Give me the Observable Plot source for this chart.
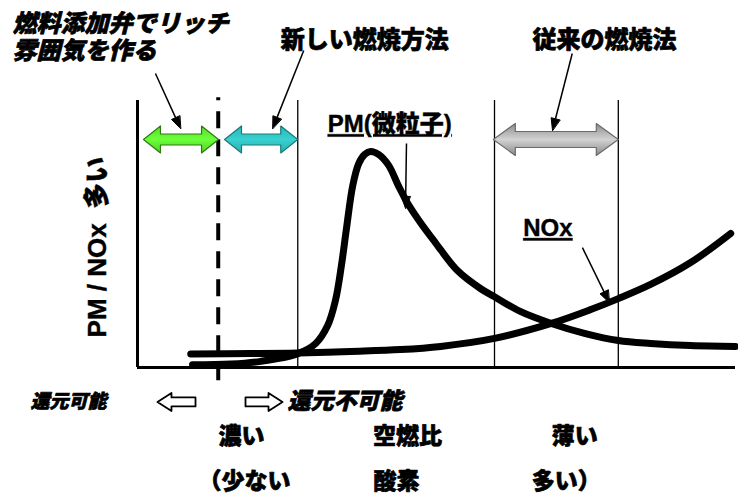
<!DOCTYPE html>
<html><head><meta charset="utf-8">
<script src="https://cdn.jsdelivr.net/npm/d3@7"></script>
<script src="https://cdn.jsdelivr.net/npm/@observablehq/plot@0.6"></script>
<style>body{margin:0;background:#fff} svg{display:block}</style>
</head><body><div id="chart"></div>
<script>
// Schematic: air-fuel ratio (arbitrary units 0..100) vs emission level (arbitrary units 0..100)
const pmAF    = [9.2, 15.6, 20.6, 26.8, 29.8, 31.8, 33.1, 34.1, 34.9, 36.0, 37.0, 38.0, 39.0, 40.3, 42.0, 43.6, 45.2, 47.3, 49.8, 53.5, 57.4, 59.7, 64.0, 69.2, 74.9, 80.4, 85.8, 92.5, 100];
const pmLevel = [1.0, 1.3, 2.3, 5.2, 9.0, 15.7, 25.1, 38.2, 51.3, 68.2, 76.4, 79.8, 80.9, 79.8, 75.7, 68.2, 61.4, 54.3, 46.8, 36.3, 29.5, 26.5, 21.0, 16.5, 12.7, 10.1, 9.0, 8.2, 7.9];
const noxAF    = [8.9, 18.9, 26.8, 35.6, 44.0, 50.7, 59.7, 69.2, 75.8, 80.4, 85.8, 92.5, 99.2];
const noxLevel = [5.1, 5.2, 5.4, 6.0, 6.7, 7.9, 10.9, 16.5, 21.7, 25.8, 31.1, 39.3, 50.2];

const regionBounds = [26.8, 59.7, 80.4];   // thin vertical boundaries
const stoichAF = 13.5;                      // dashed boundary

// range arrows (top)
const rangeNames = ["rich", "new", "conventional"];
const rangeFrom  = [1.0, 14.55, 59.5];
const rangeTo    = [13.55, 26.8, 80.4];
const rangeLevel = [85.4, 85.4, 85.4];
const rangeFill  = ["url(#gGreen)", "url(#gTeal)", "url(#gGrey)"];
const rangeEdge  = ["#2f7a12", "#1d7a7a", "#6a6a6a"];

// pointer arrows (annotation leaders)
const ptrX1 = [3.0, 27.8, 72.7, 44.98, 74.4];
const ptrY1 = [110.1, 118.7, 117.6, 83.9, 44.9];
const ptrX2 = [7.2, 22.6, 69.4, 44.82, 78.9];
const ptrY2 = [89.5, 89.5, 88.8, 59.6, 24.3];

// labels
const noteLines = ["燃料添加弁でリッチ", "雰囲気を作る"];
const noteX = [-20.9, -20.9];
const noteY = [128.5, 118.4];
const headTexts = ["新しい燃焼方法", "従来の燃焼法"];
const headX = [38.0, 78.1];
const headY = [122.5, 122.5];
const curveNames = ["PM(微粒子)", "NOx"];
const curveNameX = [31.8, 64.5];
const curveNameY = [91.0, 52.1];
const yTitle = ["PM / NOx\u00a0\u00a0多い"];
const yTitleX = [-6.7];
const yTitleY = [45.1];
const reduceTexts = ["還元可能", "還元不可能"];
const reduceX = [-17.9, 25.1];
const reduceY = [-12.7, -12.7];
const hollowFrom = [9.7, 18.06];
const hollowTo   = [3.34, 24.25];
const hollowLevel = [-12.9, -12.9];
const afRow1 = ["濃い", "空燃比", "薄い"];
const afRow2 = ["（少ない", "酸素", "多い）"];
const afColX1 = [17.4, 45.15, 73.1];
const afColX2 = [17.9, 43.3, 71.7];
const afRowY = [-25.8, -42.7];

const W = 738, H = 495;
const M = {left: 137, right: 3, top: 100, bottom: 128};
const xs = Plot.scale({x: {domain: [0, 100], range: [M.left, W - M.right]}});
const ys = Plot.scale({y: {domain: [0, 100], range: [H - M.bottom, M.top]}});
const toData = pts => pts.map(([px, py]) => ({x: xs.invert(px), y: ys.invert(py)}));

const pm = pmAF.map((a, i) => ({af: a, v: pmLevel[i]}));
const nox = noxAF.map((a, i) => ({af: a, v: noxLevel[i]}));

// double-headed block arrows
function blockArrow(x1, x2, yc, L, Hh, S) {
  const a = xs.apply(x1), b = xs.apply(x2), c = ys.apply(yc);
  return toData([[a, c], [a + L, c - Hh], [a + L, c - S], [b - L, c - S], [b - L, c - Hh], [b, c],
                 [b - L, c + Hh], [b - L, c + S], [a + L, c + S], [a + L, c + Hh]]);
}
function singleArrow(xFrom, xTo, yc, L, Hh, S) {
  const a = xs.apply(xFrom), b = xs.apply(xTo), c = ys.apply(yc);
  const d = Math.sign(b - a);
  return toData([[a, c - S], [b - d * L, c - S], [b - d * L, c - Hh], [b, c], [b - d * L, c + Hh], [b - d * L, c + S], [a, c + S]]);
}
const rangeMarks = rangeNames.map((n, i) => {
  const big = n === "conventional";
  return Plot.line(blockArrow(rangeFrom[i], rangeTo[i], rangeLevel[i], big ? 22 : 17, big ? 16 : 13.5, big ? 8 : 5.5), {
    x: "x", y: "y", curve: "linear-closed", fill: rangeFill[i], stroke: rangeEdge[i], strokeWidth: 1.2
  });
});
const hollowMarks = hollowFrom.map((f, i) =>
  Plot.line(singleArrow(f, hollowTo[i], hollowLevel[i], 14, 9, 4.5), {
    x: "x", y: "y", curve: "linear-closed", fill: "white", stroke: "black", strokeWidth: 1.8
  }));

// pointer lines and filled heads
const ptrLines = [], ptrHeads = [];
ptrX1.forEach((x1, i) => {
  const p1 = [xs.apply(x1), ys.apply(ptrY1[i])], p2 = [xs.apply(ptrX2[i]), ys.apply(ptrY2[i])];
  const dx = p2[0] - p1[0], dy = p2[1] - p1[1], len = Math.hypot(dx, dy);
  const ux = dx / len, uy = dy / len, L = 12, w = 4.5;
  const base = [p2[0] - ux * L, p2[1] - uy * L];
  const b = toData([base])[0];
  ptrLines.push({x1, y1: ptrY1[i], x2: b.x, y2: b.y});
  toData([p2, [base[0] - uy * w, base[1] + ux * w], [base[0] + uy * w, base[1] - ux * w]])
    .forEach(p => ptrHeads.push({...p, id: i}));
});

const FONT = "'Liberation Sans', 'Noto Sans CJK JP', sans-serif";
const T = (arr, xArr, yArr) => arr.map((t, i) => ({t, x: xArr[i], y: yArr[i]}));
const heavy = {fill: "black", stroke: "black", strokeWidth: 0.7, fontWeight: 900};

const plot = Plot.plot({
  width: W, height: H,
  marginLeft: M.left, marginRight: M.right, marginTop: M.top, marginBottom: M.bottom,
  x: {domain: [0, 100], axis: null},
  y: {domain: [0, 100], axis: null},
  style: {fontFamily: FONT, background: "white", overflow: "visible"},
  marks: [
    Plot.ruleX(regionBounds, {y1: 0, y2: 100, stroke: "black", strokeWidth: 1.3}),
    Plot.ruleX([stoichAF], {y1: -5, y2: 101, stroke: "black", strokeWidth: 4, strokeDasharray: "17,11"}),
    Plot.ruleX([0], {y1: 0, y2: 100, stroke: "black", strokeWidth: 3}),
    Plot.ruleY([0], {x1: 0, x2: 100, stroke: "black", strokeWidth: 3}),
    ...rangeMarks,
    ...hollowMarks,
    Plot.link(ptrLines, {x1: "x1", y1: "y1", x2: "x2", y2: "y2", stroke: "black", strokeWidth: 1.5}),
    Plot.line(ptrHeads, {x: "x", y: "y", z: "id", curve: "linear-closed", fill: "black", stroke: "black", strokeWidth: 1}),
    Plot.line(nox, {x: "af", y: "v", curve: "catmull-rom", stroke: "black", strokeWidth: 7, strokeLinecap: "round"}),
    Plot.line(pm, {x: "af", y: "v", curve: "catmull-rom", stroke: "black", strokeWidth: 7, strokeLinecap: "round"}),
    Plot.text(T(noteLines, noteX, noteY), {x: "x", y: "y", text: "t", textAnchor: "start", fontSize: 24, fontStyle: "italic", ...heavy}),
    Plot.text(T(headTexts, headX, headY), {x: "x", y: "y", text: "t", textAnchor: "middle", fontSize: 24, ...heavy}),
    Plot.text(T(curveNames, curveNameX, curveNameY), {x: "x", y: "y", text: "t", textAnchor: "start", fontSize: 24, ...heavy, strokeWidth: 0.4}),
    Plot.text(T(yTitle, yTitleX, yTitleY), {x: "x", y: "y", text: "t", textAnchor: "middle", rotate: -90, fontSize: 26, ...heavy, strokeWidth: 0.4}),
    Plot.text(T(reduceTexts.slice(0, 1), reduceX, reduceY), {x: "x", y: "y", text: "t", textAnchor: "start", fontSize: 19, fontStyle: "italic", ...heavy}),
    Plot.text(T(reduceTexts.slice(1), reduceX.slice(1), reduceY.slice(1)), {x: "x", y: "y", text: "t", textAnchor: "start", fontSize: 23, fontStyle: "italic", ...heavy}),
    Plot.text(T(afRow1, afColX1, afColX1.map(() => afRowY[0])), {x: "x", y: "y", text: "t", textAnchor: "middle", fontSize: 23, ...heavy}),
    Plot.text(T(afRow2, afColX2, afColX2.map(() => afRowY[1])), {x: "x", y: "y", text: "t", textAnchor: "middle", fontSize: 23, ...heavy})
  ]
});

const svg = d3.select(plot);
const defs = svg.insert("defs", ":first-child");
function grad(id, stops) {
  const g = defs.append("linearGradient").attr("id", id).attr("x1", 0).attr("y1", 0).attr("x2", 0).attr("y2", 1);
  stops.forEach(([o, c]) => g.append("stop").attr("offset", o).attr("stop-color", c));
}
grad("gGreen", [[0, "#55dd2a"], [0.5, "#6cff3a"], [1, "#4fcf25"]]);
grad("gTeal", [[0, "#2ab8b8"], [0.5, "#38d0d0"], [1, "#28b0b0"]]);
grad("gGrey", [[0, "#8c8c8c"], [0.5, "#d2d2d2"], [1, "#8a8a8a"]]);
svg.selectAll("text").filter(function() { return curveNames.includes(this.textContent); })
  .style("text-decoration", "underline");
document.getElementById("chart").appendChild(plot);
</script>
</body></html>
